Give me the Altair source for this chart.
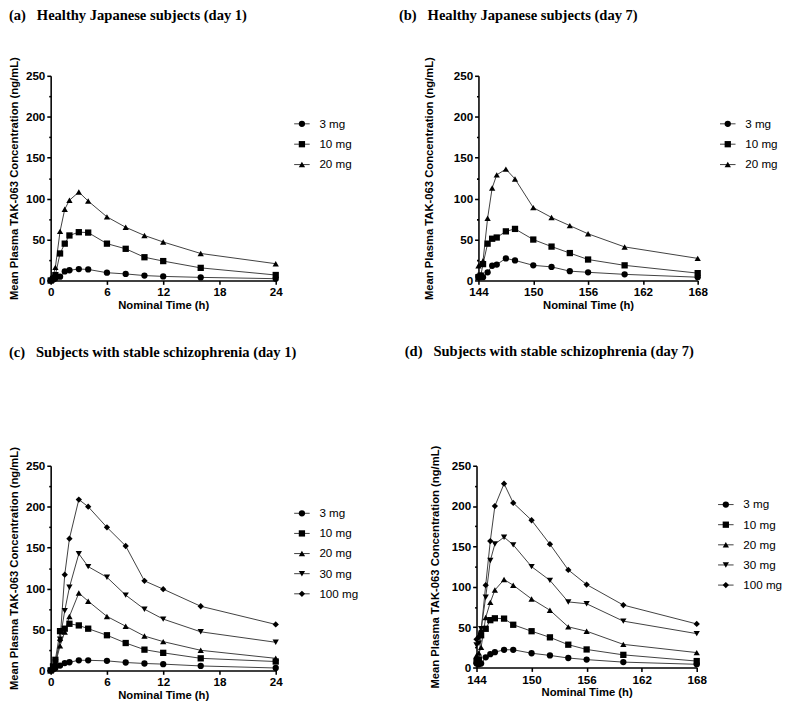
import altair as alt
import pandas as pd

# ---------------- data ----------------
TIME_DAY1 = [0, 0.25, 0.5, 1, 1.5, 2, 3, 4, 6, 8, 10, 12, 16, 24]
TIME_DAY7 = [144, 144.25, 144.5, 145, 145.5, 146, 147, 148, 150, 152, 154, 156, 160, 168]

DOSES = ["3 mg", "10 mg", "20 mg", "30 mg", "100 mg"]
SHAPES = ["circle", "square", "triangle-up", "triangle-down", "diamond"]

# (a) Healthy Japanese subjects, day 1
A_3MG = [0, 1, 2.8, 4.7, 11, 12.5, 14, 13.5, 9.5, 8, 6, 5, 3.8, 2.2]
A_10MG = [0, 2, 6.5, 33, 45, 55, 59, 58.5, 45, 38.7, 28.4, 23.7, 15.4, 6.7]
A_20MG = [0, 5, 16, 60, 87, 98, 108, 97, 77.7, 65, 55, 47, 33, 20.5]

# (b) Healthy Japanese subjects, day 7
B_3MG = [5, 6, 4, 10, 18, 19.5, 27, 24.5, 18.5, 16.6, 11.4, 10, 7.5, 4]
B_10MG = [4, 6, 20, 45, 51, 52.5, 60, 63, 50, 41.4, 33.5, 25.6, 18.5, 9]
B_20MG = [18, 20, 24, 76, 113, 129, 136, 124, 89, 77, 67, 57, 41, 27]

# (c) Subjects with stable schizophrenia, day 1
C_3MG = [0, 1, 3, 6, 9, 10, 12.4, 12.4, 11.7, 9.7, 8.5, 7.7, 5.5, 3]
C_10MG = [0, 5, 13, 48, 51, 57, 55, 51, 43, 33.5, 25.4, 21.5, 14.8, 10.9]
C_20MG = [0, 3, 8, 30, 47, 66, 94.5, 84.6, 66, 54, 42, 35.2, 24.6, 14.8]
C_30MG = [0, 4, 10, 38, 73, 101.6, 142.5, 126.8, 113.8, 92, 74.8, 62.7, 47.2, 34.4]
C_100MG = [0, 3, 8, 37, 117, 161, 208.7, 200, 174.8, 152, 109.4, 99.3, 78.4, 56.2]

# (d) Subjects with stable schizophrenia, day 7
D_3MG = [5, 4, 5, 12.6, 16.5, 19, 22, 22, 17.7, 15, 11.8, 9.8, 6.7, 4]
D_10MG = [8, 10, 40, 48, 58.7, 61, 60.6, 53, 45, 37.4, 28.3, 22.4, 15.7, 8]
D_20MG = [15, 18, 25, 62, 80.7, 96, 109, 102, 85, 71, 50.4, 45, 28.7, 18.5]
D_30MG = [28, 30, 48, 87, 132.5, 153, 161.5, 152, 125, 108, 81.3, 79, 57.5, 42]
D_100MG = [35, 38, 45, 102, 156.7, 200, 227.8, 204, 182.5, 152.8, 121, 102.8, 77.4, 54]

Y_TICKS = [0, 50, 100, 150, 200, 250]
Y_MINOR = [25, 75, 125, 175, 225]
X_TICKS_DAY1 = [0, 6, 12, 18, 24]
X_TICKS_DAY7 = [144, 150, 156, 162, 168]

Y_TITLE = "Mean Plasma TAK-063 Concentration (ng/mL)"
X_TITLE = "Nominal Time (h)"
NBSP = "\u00a0"
TITLES = [
    "(a)" + NBSP * 3 + "Healthy Japanese subjects (day 1)",
    "(b)" + NBSP * 3 + "Healthy Japanese subjects (day 7)",
    "(c)" + NBSP * 3 + "Subjects with stable schizophrenia (day 1)",
    "(d)" + NBSP * 3 + "Subjects with stable schizophrenia (day 7)",
]

SANS = "Liberation Sans"
SERIF = "Liberation Serif"
LINE_COLOR = "#3c3c3c"


def make_df(times, series):
    rows = []
    for dose, vals in series.items():
        for t, v in zip(times, vals):
            rows.append({"dose": dose, "time": t, "conc": v})
    return pd.DataFrame(rows)


def panel(times, series, xdom, xticks, width, height, title, title_offset,
          title_dx, y_title_pad, leg_y0, leg_y1, leg_x):
    doses = list(series.keys())
    df = make_df(times, series)
    leg = pd.DataFrame({"dose": doses})

    xscale = alt.Scale(domain=xdom, nice=False, zero=False)
    yscale = alt.Scale(domain=[0, 250], nice=False)
    shape_scale = alt.Scale(domain=DOSES, range=SHAPES)

    x = alt.X("time:Q", scale=xscale,
              axis=alt.Axis(values=xticks, title=X_TITLE, titlePadding=2,
                            labelPadding=3))

    lines = alt.Chart(df).mark_line(color=LINE_COLOR, strokeWidth=1).encode(
        x=x,
        y=alt.Y("conc:Q", scale=yscale,
                axis=alt.Axis(values=Y_TICKS, title=Y_TITLE,
                              titlePadding=y_title_pad)),
        detail="dose:N",
    )
    pts = alt.Chart(df).mark_point(filled=True, color="black", size=42,
                                   opacity=1).encode(
        x=x,
        y=alt.Y("conc:Q", scale=yscale,
                axis=alt.Axis(orient="left", values=Y_MINOR, labels=False,
                              tickSize=2, domain=False, title=None)),
        shape=alt.Shape("dose:N", scale=shape_scale, legend=None),
    )

    leg_y = alt.Y("dose:N", axis=None,
                  scale=alt.Scale(type="point", domain=doses,
                                  range=[leg_y0, leg_y1], padding=0))
    leg_base = alt.Chart(leg).encode(y=leg_y)
    leg_rule = leg_base.mark_rule(color=LINE_COLOR, strokeWidth=1).encode(
        x=alt.value(leg_x - 8), x2=alt.value(leg_x + 8))
    leg_pts = leg_base.mark_point(filled=True, color="black", size=42,
                                  opacity=1).encode(
        x=alt.value(leg_x),
        shape=alt.Shape("dose:N", scale=shape_scale, legend=None))
    leg_txt = leg_base.mark_text(align="left", baseline="middle", font=SANS,
                                 fontSize=12, color="black").encode(
        x=alt.value(leg_x + 18), text="dose:N")

    return alt.layer(lines, pts, leg_rule, leg_pts, leg_txt).resolve_scale(
        y="independent"
    ).properties(
        width=width,
        height=height,
        title=alt.Title(title, anchor="start", frame="bounds", font=SERIF,
                        fontSize=15, fontWeight="bold", color="black",
                        offset=title_offset, dx=title_dx),
    )


pa = panel(TIME_DAY1, {"3 mg": A_3MG, "10 mg": A_10MG, "20 mg": A_20MG},
           [0, 24], X_TICKS_DAY1, 232, 211,
           TITLES[0], 35, 0, 6, 49.5, 91.5, 259)
pb = panel(TIME_DAY7, {"3 mg": B_3MG, "10 mg": B_10MG, "20 mg": B_20MG},
           [144, 168], X_TICKS_DAY7, 226, 211,
           TITLES[1], 35, -26, 19, 49.5, 91.5, 257)
pc = panel(TIME_DAY1, {"3 mg": C_3MG, "10 mg": C_10MG, "20 mg": C_20MG,
                       "30 mg": C_30MG, "100 mg": C_100MG},
           [0, 24], X_TICKS_DAY1, 232, 211,
           TITLES[2], 89, 0, 6, 49, 132, 259)
pd_ = panel(TIME_DAY7, {"3 mg": D_3MG, "10 mg": D_10MG, "20 mg": D_20MG,
                        "30 mg": D_30MG, "100 mg": D_100MG},
            [144, 168], X_TICKS_DAY7, 227, 208,
            TITLES[3], 89, -26, 11, 40, 123, 257)

chart = alt.vconcat(
    alt.hconcat(pa, pb, spacing=47),
    alt.hconcat(pc, pd_, spacing=46),
    spacing=33,
).properties(
    padding={"left": 0, "top": -11, "right": 2, "bottom": 2}
).configure_view(
    stroke=None
).configure_axis(
    grid=False,
    domainColor="black",
    domainWidth=1.6,
    tickColor="black",
    tickWidth=1.6,
    tickSize=4,
    labelFont=SANS,
    labelFontSize=12,
    labelFontWeight="bold",
    labelColor="black",
    labelPadding=2,
    labelFlush=False,
    titleFont=SANS,
    titleFontSize=11.6,
    titleFontWeight="bold",
    titleColor="black",
)

chart.save("out.html", embed_options={"renderer": "svg", "actions": False})
